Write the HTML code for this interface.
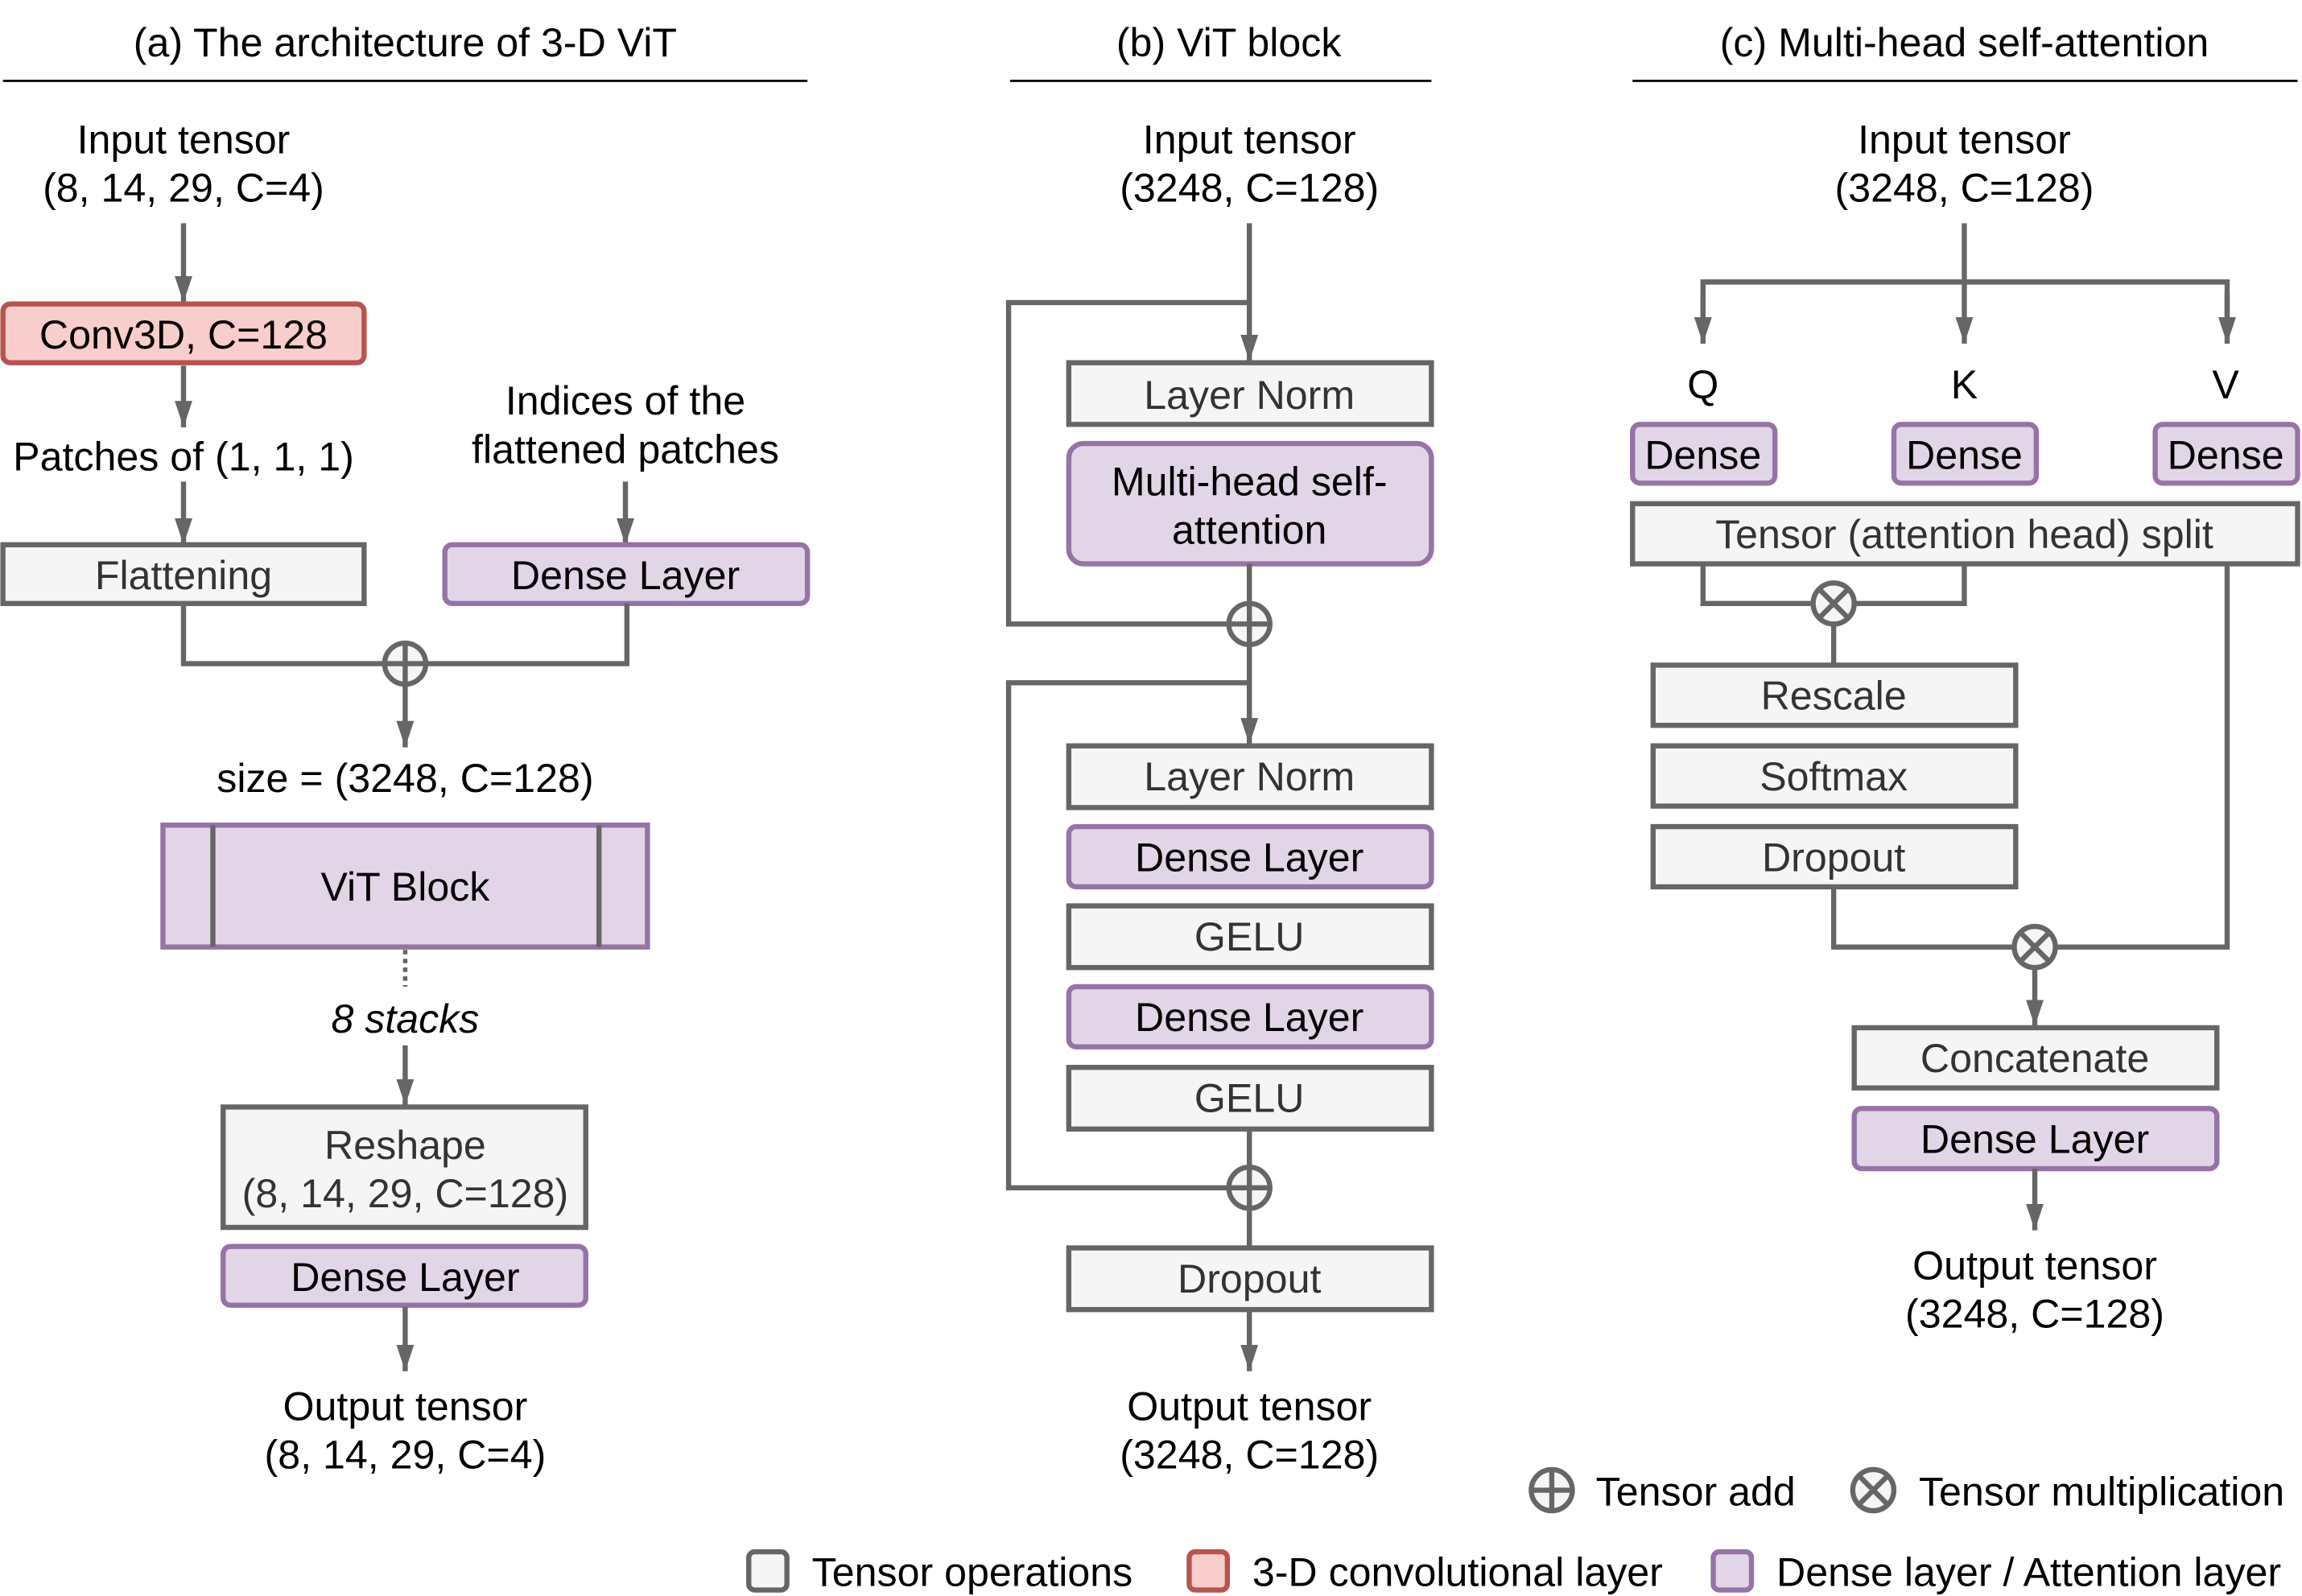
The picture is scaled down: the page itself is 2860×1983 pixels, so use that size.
<!DOCTYPE html>
<html><head><meta charset="utf-8"><style>
html,body{margin:0;padding:0;background:#fff}
svg{display:block}
text{font-family:"Liberation Sans",Arial,sans-serif;font-size:27.5px;text-anchor:middle;dominant-baseline:central}
.t{fill:#000}.b{fill:#333}
.g{fill:#f5f5f5;stroke:#666;stroke-width:3.5}
.p{fill:#e1d5e7;stroke:#9673a6;stroke-width:3.5}
.r{fill:#f8cecc;stroke:#b85450;stroke-width:3.5}
.l{stroke:#666;stroke-width:3.5;fill:none}
.c{fill:#f5f5f5;stroke:#666;stroke-width:3.5}
</style></head><body>
<svg width="2860" height="1983" viewBox="0 0 1568 1087" xmlns="http://www.w3.org/2000/svg">
<defs><marker id="a" viewBox="0 0 18 12" refX="18" refY="6" markerWidth="18" markerHeight="12" markerUnits="userSpaceOnUse" orient="auto"><path d="M0,0L18,6L0,12z" fill="#666"/></marker></defs>

<!-- Panel a -->
<text class="t" x="276" y="29">(a) The architecture of 3-D ViT</text>
<line x1="2" y1="55" x2="550" y2="55" stroke="#000" stroke-width="1.5"/>
<text class="t" x="125" y="95">Input tensor</text>
<text class="t" x="125" y="128">(8, 14, 29, C=4)</text>
<line class="l" x1="125" y1="152" x2="125" y2="206" marker-end="url(#a)"/>
<rect class="r" x="2" y="207" width="246" height="40" rx="5"/>
<text class="t" x="125" y="228">Conv3D, C=128</text>
<line class="l" x1="125" y1="249" x2="125" y2="291" marker-end="url(#a)"/>
<text class="t" x="125" y="311">Patches of (1, 1, 1)</text>
<line class="l" x1="125" y1="328" x2="125" y2="371" marker-end="url(#a)"/>
<rect class="g" x="2" y="371" width="246" height="40"/>
<text class="b" x="125" y="392">Flattening</text>
<text class="t" x="426" y="273">Indices of the</text>
<text class="t" x="426" y="306">flattened patches</text>
<line class="l" x1="426" y1="328" x2="426" y2="371" marker-end="url(#a)"/>
<rect class="p" x="303" y="371" width="247" height="40" rx="5"/>
<text class="t" x="426" y="392">Dense Layer</text>
<path class="l" d="M125,411V452H427V411"/>
<circle class="c" cx="276" cy="452" r="14"/><path class="l" d="M262,452H290M276,438V466"/>
<line class="l" x1="276" y1="466" x2="276" y2="509" marker-end="url(#a)"/>
<text class="t" x="276" y="530">size = (3248, C=128)</text>
<rect class="p" x="111" y="562" width="330" height="83"/>
<path class="l" d="M145,562V645M408,562V645" stroke="#9673a6"/>
<text class="t" x="276" y="604">ViT Block</text>
<line x1="276" y1="647" x2="276" y2="672" stroke="#666" stroke-width="3" stroke-dasharray="3,3"/>
<text class="t" x="276" y="694" font-style="italic">8 stacks</text>
<line class="l" x1="276" y1="712" x2="276" y2="753" marker-end="url(#a)"/>
<rect class="g" x="152" y="754" width="247" height="82"/>
<text class="b" x="276" y="780">Reshape</text>
<text class="b" x="276" y="813">(8, 14, 29, C=128)</text>
<rect class="p" x="152" y="849" width="247" height="40" rx="5"/>
<text class="t" x="276" y="870">Dense Layer</text>
<line class="l" x1="276" y1="890" x2="276" y2="934" marker-end="url(#a)"/>
<text class="t" x="276" y="958">Output tensor</text>
<text class="t" x="276" y="991">(8, 14, 29, C=4)</text>

<!-- Panel b -->
<text class="t" x="837" y="29">(b) ViT block</text>
<line x1="688" y1="55" x2="975" y2="55" stroke="#000" stroke-width="1.5"/>
<text class="t" x="851" y="95">Input tensor</text>
<text class="t" x="851" y="128">(3248, C=128)</text>
<line class="l" x1="851" y1="152" x2="851" y2="246" marker-end="url(#a)"/>
<path class="l" d="M851,206H687V425H837"/>
<rect class="g" x="728" y="247" width="247" height="42"/>
<text class="b" x="851" y="269">Layer Norm</text>
<rect class="p" x="728" y="302" width="247" height="82" rx="10"/>
<text class="t" x="851" y="328">Multi-head self-</text>
<text class="t" x="851" y="361">attention</text>
<line class="l" x1="851" y1="384" x2="851" y2="411"/>
<circle class="c" cx="851" cy="425" r="14"/><path class="l" d="M837,425H865M851,411V439"/>
<line class="l" x1="851" y1="439" x2="851" y2="507" marker-end="url(#a)"/>
<path class="l" d="M851,465H687V809H837"/>
<rect class="g" x="728" y="508" width="247" height="42"/>
<text class="b" x="851" y="529">Layer Norm</text>
<rect class="p" x="728" y="563" width="247" height="41" rx="5"/>
<text class="t" x="851" y="584">Dense Layer</text>
<rect class="g" x="728" y="617" width="247" height="42"/>
<text class="b" x="851" y="638">GELU</text>
<rect class="p" x="728" y="672" width="247" height="41" rx="5"/>
<text class="t" x="851" y="693">Dense Layer</text>
<rect class="g" x="728" y="727" width="247" height="42"/>
<text class="b" x="851" y="748">GELU</text>
<line class="l" x1="851" y1="769" x2="851" y2="795"/>
<circle class="c" cx="851" cy="809" r="14"/><path class="l" d="M837,809H865M851,795V823"/>
<line class="l" x1="851" y1="823" x2="851" y2="850"/>
<rect class="g" x="728" y="850" width="247" height="42"/>
<text class="b" x="851" y="871">Dropout</text>
<line class="l" x1="851" y1="892" x2="851" y2="934" marker-end="url(#a)"/>
<text class="t" x="851" y="958">Output tensor</text>
<text class="t" x="851" y="991">(3248, C=128)</text>

<!-- Panel c -->
<text class="t" x="1338" y="29">(c) Multi-head self-attention</text>
<line x1="1112" y1="55" x2="1565" y2="55" stroke="#000" stroke-width="1.5"/>
<text class="t" x="1338" y="95">Input tensor</text>
<text class="t" x="1338" y="128">(3248, C=128)</text>
<line class="l" x1="1338" y1="152" x2="1338" y2="234" marker-end="url(#a)"/>
<path class="l" d="M1160,215V192H1517V215"/>
<line class="l" x1="1160" y1="200" x2="1160" y2="234" marker-end="url(#a)"/>
<line class="l" x1="1517" y1="200" x2="1517" y2="234" marker-end="url(#a)"/>
<text class="t" x="1160" y="262">Q</text>
<text class="t" x="1338" y="262">K</text>
<text class="t" x="1516" y="262">V</text>
<rect class="p" x="1112" y="289" width="97" height="40" rx="5"/><text class="t" x="1160" y="310">Dense</text>
<rect class="p" x="1290" y="289" width="97" height="40" rx="5"/><text class="t" x="1338" y="310">Dense</text>
<rect class="p" x="1468" y="289" width="97" height="40" rx="5"/><text class="t" x="1516" y="310">Dense</text>
<rect class="g" x="1112" y="343" width="453" height="41"/>
<text class="b" x="1338" y="364">Tensor (attention head) split</text>
<path class="l" d="M1160,384V411H1338V384"/>
<circle class="c" cx="1249" cy="411" r="14"/><path class="l" d="M1239,401L1259,421M1259,401L1239,421"/>
<line class="l" x1="1249" y1="425" x2="1249" y2="453"/>
<rect class="g" x="1126" y="453" width="247" height="41"/><text class="b" x="1249" y="474">Rescale</text>
<rect class="g" x="1126" y="508" width="247" height="41"/><text class="b" x="1249" y="529">Softmax</text>
<rect class="g" x="1126" y="563" width="247" height="41"/><text class="b" x="1249" y="584">Dropout</text>
<path class="l" d="M1249,604V645H1517V384"/>
<circle class="c" cx="1386" cy="645" r="14"/><path class="l" d="M1376,635L1396,655M1396,635L1376,655"/>
<line class="l" x1="1386" y1="659" x2="1386" y2="699" marker-end="url(#a)"/>
<rect class="g" x="1263" y="700" width="247" height="41"/><text class="b" x="1386" y="721">Concatenate</text>
<rect class="p" x="1263" y="755" width="247" height="41" rx="5"/><text class="t" x="1386" y="776">Dense Layer</text>
<line class="l" x1="1386" y1="796" x2="1386" y2="838" marker-end="url(#a)"/>
<text class="t" x="1386" y="862">Output tensor</text>
<text class="t" x="1386" y="895">(3248, C=128)</text>

<!-- Legend -->
<circle class="c" cx="1057" cy="1015" r="14" fill="#fff"/><path class="l" d="M1043,1015H1071M1057,1001V1029"/>
<text class="t" x="1087" y="1016" style="text-anchor:start">Tensor add</text>
<circle class="c" cx="1276" cy="1015" r="14"/><path class="l" d="M1266,1005L1286,1025M1286,1005L1266,1025"/>
<text class="t" x="1307" y="1016" style="text-anchor:start">Tensor multiplication</text>
<rect class="g" x="510" y="1057" width="26" height="26" rx="4"/>
<text class="t" x="553" y="1071" style="text-anchor:start">Tensor operations</text>
<rect class="r" x="810" y="1057" width="26" height="26" rx="4"/>
<text class="t" x="853" y="1071" style="text-anchor:start">3-D convolutional layer</text>
<rect class="p" x="1167" y="1057" width="26" height="26" rx="4"/>
<text class="t" x="1210" y="1071" style="text-anchor:start">Dense layer / Attention layer</text>
</svg>
</body></html>
